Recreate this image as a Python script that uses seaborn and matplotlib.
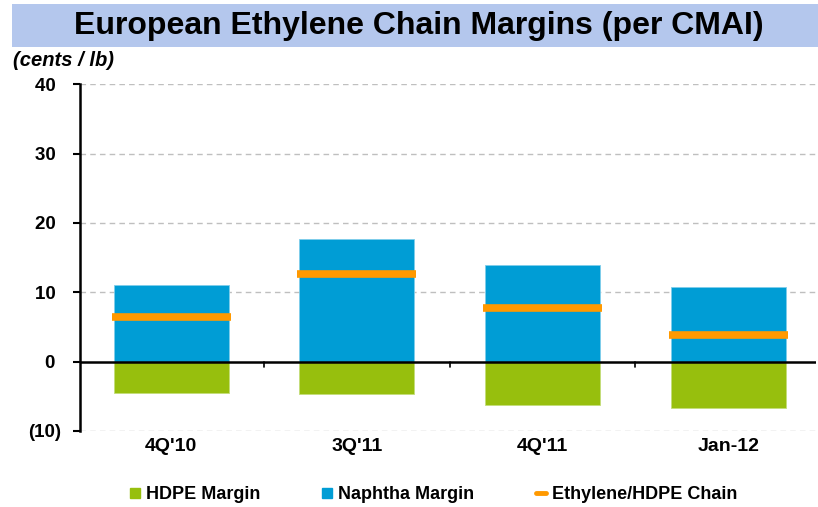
import matplotlib
matplotlib.use("Agg")
import matplotlib.pyplot as plt
from matplotlib.patches import Rectangle
from matplotlib.lines import Line2D
import seaborn as sns
import pandas as pd
import numpy as np

# data (cents / lb)
periods = ["4Q'10", "3Q'11", "4Q'11", "Jan-12"]
naphtha_margin = [11.1, 17.7, 13.9, 10.7]
hdpe_margin = [-4.5, -4.7, -6.2, -6.7]
chain_margin = [6.5, 12.7, 7.7, 3.9]

GREEN = "#97BF0D"
BLUE = "#009DD5"
ORANGE = "#FF9900"

sns.set_style("white")
plt.rcParams["font.family"] = ["Liberation Sans", "DejaVu Sans"]
plt.rcParams["font.weight"] = "bold"
for k in ["text.color", "xtick.color", "ytick.color", "axes.labelcolor"]:
    plt.rcParams[k] = "black"

df = pd.DataFrame({"Period": periods, "Naphtha": naphtha_margin,
                   "HDPE": hdpe_margin, "Chain": chain_margin})

fig = plt.figure(figsize=(8.18, 5.07), dpi=100)
ax = fig.add_axes([0.098, 0.150, 0.899, 0.684])

# title band
fig.patches.append(Rectangle((0.015, 0.907), 0.985, 0.085, transform=fig.transFigure,
                             facecolor="#B4C7ED", edgecolor="none", zorder=0))
fig.text(0.512, 0.949, "European Ethylene Chain Margins (per CMAI)", ha="center", va="center",
         fontsize=23, fontweight="bold")
fig.text(0.016, 0.880, "(cents / lb)", ha="left", va="center", fontsize=14.5,
         fontweight="bold", style="italic")

sns.barplot(data=df, x="Period", y="Naphtha", color=BLUE, width=0.62, saturation=1,
            edgecolor="#7FCDEB", linewidth=0.6, ax=ax, zorder=2)
sns.barplot(data=df, x="Period", y="HDPE", color=GREEN, width=0.62, saturation=1,
            edgecolor="#C4DD7A", linewidth=0.6, ax=ax, zorder=2)

xs = np.arange(len(periods))
ax.hlines(df["Chain"], xs - 0.32, xs + 0.32, color=ORANGE, linewidth=5.5, zorder=3)

ax.set_ylim(-10, 40)
ax.set_xlim(-0.49, 3.47)
yt = [-10, 0, 10, 20, 30, 40]
ax.set_yticks(yt)
ax.set_yticklabels([f"({abs(v)})" if v < 0 else f"{v} " for v in yt],
                   fontsize=13.5, fontweight="bold")
for v in [-10, 10, 20, 30, 40]:
    ax.axhline(v, color="#BFBFBF", linestyle=(0, (4, 3)), linewidth=1, zorder=1)
ax.axhline(0, color="black", linewidth=1.8, zorder=4)

# category labels below the plot, small ticks between categories on zero line
ax.set_xticks(xs)
ax.set_xticklabels(periods, fontsize=14, fontweight="bold")
ax.tick_params(axis="x", length=0, pad=5)
for m in xs[:-1] + 0.5:
    ax.plot([m, m], [0, -0.8], color="black", linewidth=1.2, zorder=4)
ax.tick_params(axis="y", direction="out", length=5, width=1.5, color="black", left=True, pad=9)
ax.set_xlabel("")
ax.set_ylabel("")
for s in ["top", "right", "bottom"]:
    ax.spines[s].set_visible(False)
ax.spines["left"].set_color("black")
ax.spines["left"].set_linewidth(1.8)

handles = [Line2D([], [], marker="s", linestyle="none", color=GREEN, markersize=7.5),
           Line2D([], [], marker="s", linestyle="none", color=BLUE, markersize=7.5),
           Line2D([], [], color=ORANGE, linewidth=3.5)]
fig.legend(handles, ["HDPE Margin", "Naphtha Margin", "Ethylene/HDPE Chain"],
           loc="center", bbox_to_anchor=(0.53, 0.024), ncol=3, frameon=False,
           prop={"size": 13, "weight": "bold"}, handlelength=0.6, handletextpad=0.3,
           columnspacing=3.4)

fig.savefig("out.png", dpi=100)
